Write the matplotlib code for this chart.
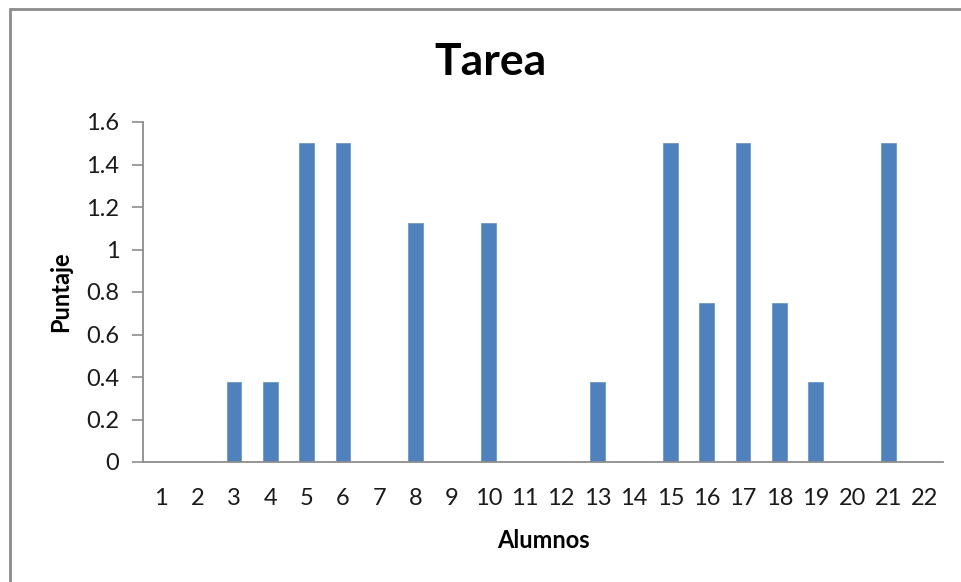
import matplotlib
matplotlib.use("Agg")
import matplotlib.pyplot as plt
from matplotlib.patches import Rectangle

alumnos = [str(i) for i in range(1, 23)]
puntaje = [0, 0, 0.375, 0.375, 1.5, 1.5, 0, 1.125, 0, 1.125, 0, 0, 0.375, 0,
           1.5, 0.75, 1.5, 0.75, 0.375, 0, 1.5, 0]
y_ticks = [0, 0.2, 0.4, 0.6, 0.8, 1, 1.2, 1.4, 1.6]
y_tick_labels = ["0", "0.2", "0.4", "0.6", "0.8", "1", "1.2", "1.4", "1.6"]

plt.rcParams["font.family"] = ["Lato", "DejaVu Sans"]

W, H = 961, 582
fig = plt.figure(figsize=(W / 100, H / 100), dpi=100)
fig.patch.set_facecolor("white")

# chart frame
fig.add_artist(Rectangle((10 / W, -0.05), 1.1, 1 - 9 / H + 0.05,
                         transform=fig.transFigure, fill=False,
                         edgecolor="#8c8c8c", linewidth=2.0))

ax = fig.add_axes([143 / W, 1 - 462 / H, (943 - 143) / W, (462 - 122) / H])
x = range(len(alumnos))
ax.bar(x, puntaje, width=0.4, color="#4f81bd", edgecolor="#6e97c8",
       linewidth=0.6)
ax.set_xlim(-0.5, len(alumnos) - 0.5)
ax.set_ylim(0, 1.6)
ax.set_xticks(list(x))
ax.set_xticklabels(alumnos)
ax.set_yticks(y_ticks)
ax.set_yticklabels(y_tick_labels)

for s in ("top", "right"):
    ax.spines[s].set_visible(False)
for s in ("left", "bottom"):
    ax.spines[s].set_color("#8c8c8c")
    ax.spines[s].set_linewidth(1.3)

ax.tick_params(axis="y", direction="out", length=8, width=1.2,
               color="#8c8c8c", labelsize=17, labelcolor="#1a1a1a", pad=9)
ax.tick_params(axis="x", length=0, labelsize=17, labelcolor="#1a1a1a", pad=19)

ax.set_xlabel("Alumnos", fontsize=17, fontweight="bold", labelpad=14)
ax.set_ylabel("Puntaje", fontsize=17, fontweight="bold", labelpad=10)

fig.text(490 / W, 1 - 62 / H, "Tarea", ha="center", va="center",
         fontsize=32, fontweight="bold", color="black")

fig.savefig("out.png", dpi=100)
